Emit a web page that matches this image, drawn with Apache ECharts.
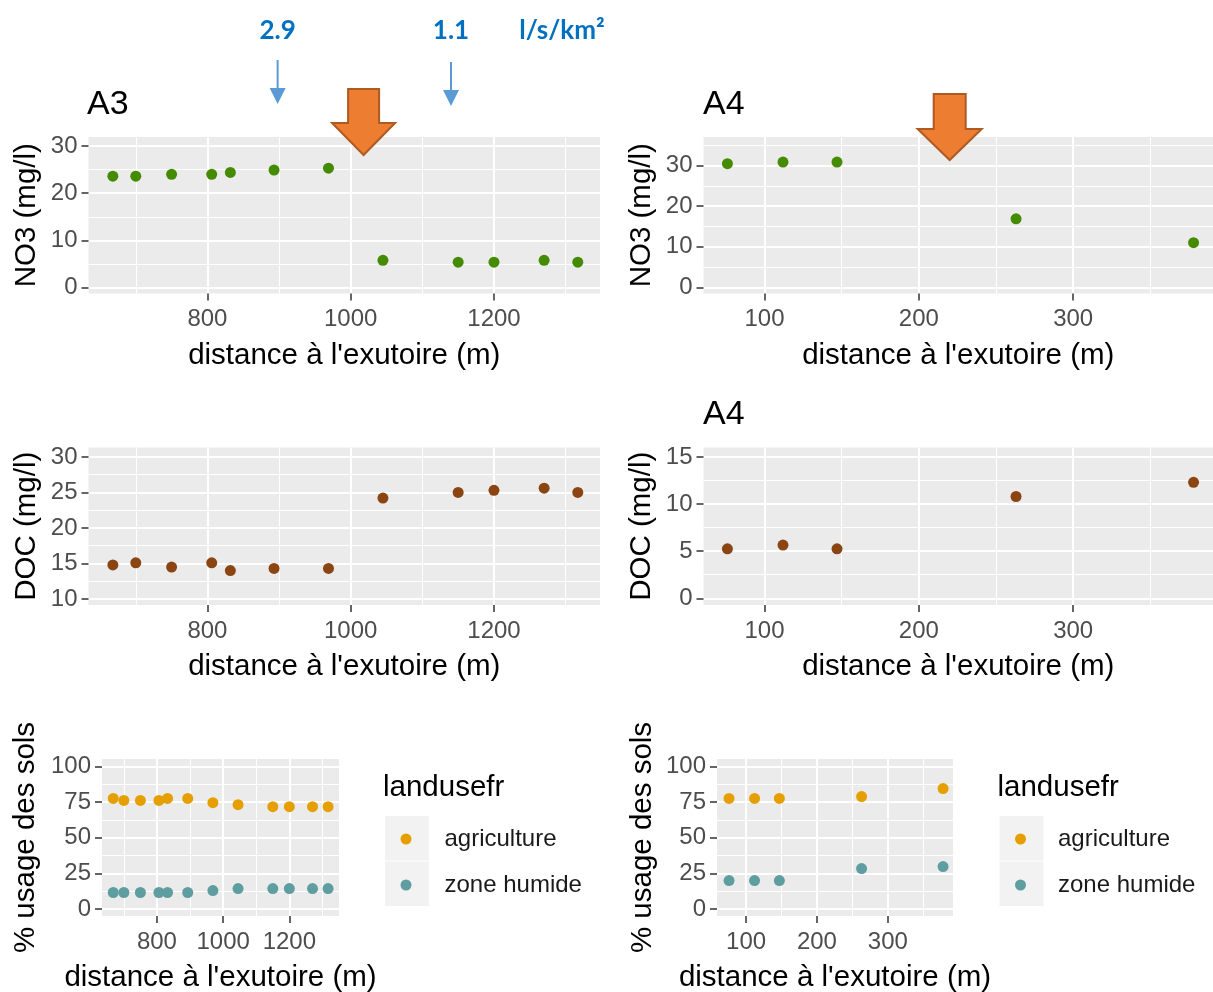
<!DOCTYPE html>
<html>
<head>
<meta charset="utf-8">
<script src="https://cdn.jsdelivr.net/npm/echarts@6/dist/echarts.min.js"></script>
<style>
  html, body { margin: 0; padding: 0; background: #ffffff; }
  #chart { width: 1213px; height: 992px; }
</style>
</head>
<body>
<div id="chart"></div>
<script>
// ---- Sampling data: stream A3 ----
const a3Distance = [668, 700, 750, 806, 832, 893, 969, 1045, 1150, 1200, 1270, 1317];
const a3No3      = [23.6, 23.6, 24.0, 24.0, 24.4, 24.9, 25.3, 5.8, 5.4, 5.4, 5.8, 5.4];
const a3Doc      = [14.8, 15.1, 14.5, 15.1, 14.0, 14.3, 14.3, 24.2, 25.0, 25.3, 25.6, 25.0];
const a3Agri     = [77.6, 76.2, 76.2, 76.2, 77.6, 77.6, 74.6, 73.2, 71.8, 71.8, 71.8, 71.8];
const a3Wet      = [11.5, 11.5, 11.5, 11.5, 11.5, 11.5, 12.9, 14.3, 14.3, 14.3, 14.3, 14.3];

// ---- Sampling data: stream A4 ----
const a4Distance = [76, 112, 147, 263, 378];
const a4No3      = [30.5, 30.9, 30.9, 16.9, 11.0];
const a4Doc      = [5.25, 5.65, 5.25, 10.8, 12.3];
const a4Agri     = [77.6, 77.6, 77.6, 78.9, 84.5];
const a4Wet      = [19.9, 19.9, 19.9, 28.3, 29.7];

// ---- Tick values ----
const a3XMajor = [800, 1000, 1200];
const a3XMinor = [700, 900, 1100, 1300];
const a4XMajor = [100, 200, 300];
const a4XMinor = [150, 250, 350];
const no3Major = [0, 10, 20, 30];
const no3MinorA3 = [5, 15, 25];
const no3MinorA4 = [5, 15, 25, 35];
const docA3Major = [10, 15, 20, 25, 30];
const docA3Minor = [12.5, 17.5, 22.5, 27.5];
const docA4Major = [0, 5, 10, 15];
const docA4Minor = [2.5, 7.5, 12.5];
const pctMajor = [0, 25, 50, 75, 100];
const pctMinor = [12.5, 37.5, 62.5, 87.5];

// ---- Annotations: specific discharge along A3, and the break points ----
const flowAt = [898, 1140];
const flowLabels = ['2.9', '1.1'];
const flowUnit = 'l/s/km\u00b2';
const breakA3 = 1018;
const breakA4 = 220;

const xTitle = "distance \u00e0 l'exutoire (m)";
const legendTitle = 'landusefr';
const landuseNames = ['agriculture', 'zone humide'];

const FONT = '"Liberation Sans", Arial, sans-serif';
const COL_NO3 = '#458B00';
const COL_DOC = '#8B4513';
const COL_AGRI = '#E69F00';
const COL_WET = '#5F9EA0';

const chart = echarts.init(document.getElementById('chart'), null, { renderer: 'canvas' });

const grids = [
  { left: 88.5, top: 137,   width: 511.5, height: 156.5 }, // A3 NO3
  { left: 703.5, top: 137,  right: 0,     height: 156.5 }, // A4 NO3
  { left: 88.5, top: 447.5, width: 511.5, height: 157.5 }, // A3 DOC
  { left: 703.5, top: 447.5, right: 0,    height: 157.5 }, // A4 DOC
  { left: 102, top: 759,    width: 237,   height: 157 },   // A3 land use
  { left: 717, top: 759,    width: 236,   height: 157 }    // A4 land use
].map(g => Object.assign({
  show: true, backgroundColor: '#EBEBEB', borderWidth: 0, containLabel: false, outerBoundsMode: 'none'
}, g));

const xAxes = [];
const yAxes = [];

function majorAxis(dim, gridIndex, min, max, ticks, name, gap, labelMargin) {
  const isX = dim === 'x';
  return {
    type: 'value', gridIndex, min, max,
    position: isX ? 'bottom' : 'left',
    name, nameLocation: 'middle', nameGap: gap,
    nameTextStyle: { fontFamily: FONT, fontSize: 29.5, color: '#000000' },
    axisLine: { show: false, onZero: false },
    axisTick: { show: true, length: 7, customValues: ticks, lineStyle: { color: '#333333', width: 1.5 } },
    axisLabel: {
      show: true, customValues: ticks, margin: labelMargin,
      formatter: v => String(v),
      fontFamily: FONT, fontSize: 24, color: '#4D4D4D'
    },
    splitLine: { show: true, lineStyle: { color: '#FFFFFF', width: 2 } },
    minorTick: { show: false }, minorSplitLine: { show: false }
  };
}
function minorAxis(dim, gridIndex, min, max, ticks) {
  return {
    type: 'value', gridIndex, min, max,
    position: dim === 'x' ? 'top' : 'right',
    axisLine: { show: false, onZero: false },
    axisTick: { show: false, customValues: ticks },
    axisLabel: { show: false, customValues: ticks },
    splitLine: { show: true, lineStyle: { color: '#FFFFFF', width: 1 } }
  };
}
function panel(g, xr, xMaj, xMin, yr, yMaj, yMin, yName, yGap) {
  xAxes.push(majorAxis('x', g, xr[0], xr[1], xMaj, xTitle, 47, 14));
  xAxes.push(minorAxis('x', g, xr[0], xr[1], xMin));
  yAxes.push(majorAxis('y', g, yr[0], yr[1], yMaj, yName, yGap, 11));
  yAxes.push(minorAxis('y', g, yr[0], yr[1], yMin));
}

panel(0, [634, 1348], a3XMajor, a3XMinor, [-1.23, 31.9], no3Major, no3MinorA3, 'NO3 (mg/l)', 46.5);
panel(1, [60.5, 390.6], a4XMajor, a4XMinor, [-1.53, 37.08], no3Major, no3MinorA4, 'NO3 (mg/l)', 46.5);
panel(2, [634, 1348], a3XMajor, a3XMinor, [9.16, 31.32], docA3Major, docA3Minor, 'DOC (mg/l)', 46.5);
panel(3, [60.5, 390.6], a4XMajor, a4XMinor, [-0.71, 16.0], docA4Major, docA4Minor, 'DOC (mg/l)', 46.5);
panel(4, [634, 1350], a3XMajor, a3XMinor, [-5, 105.3], pctMajor, pctMinor, '% usage des sols', 61);
panel(5, [59, 392], a4XMajor, a4XMinor, [-5, 105.3], pctMajor, pctMinor, '% usage des sols', 59);

function zip(xs, ys) { return xs.map((x, i) => [x, ys[i]]); }
function scatter(g, name, xs, ys, color) {
  return {
    type: 'scatter', name, xAxisIndex: 2 * g, yAxisIndex: 2 * g,
    data: zip(xs, ys), symbol: 'circle', symbolSize: 11,
    itemStyle: { color, opacity: 1 },
    emphasis: { disabled: true }, silent: true, z: 5
  };
}

const series = [
  scatter(0, 'NO3 A3', a3Distance, a3No3, COL_NO3),
  scatter(1, 'NO3 A4', a4Distance, a4No3, COL_NO3),
  scatter(2, 'DOC A3', a3Distance, a3Doc, COL_DOC),
  scatter(3, 'DOC A4', a4Distance, a4Doc, COL_DOC),
  scatter(4, landuseNames[0], a3Distance, a3Agri, COL_AGRI),
  scatter(4, landuseNames[1], a3Distance, a3Wet, COL_WET),
  scatter(5, landuseNames[0], a4Distance, a4Agri, COL_AGRI),
  scatter(5, landuseNames[1], a4Distance, a4Wet, COL_WET)
];

function legendAt(left, pad) {
  return {
    show: true, orient: 'vertical', left, top: 827, padding: 0,
    itemWidth: 11, itemHeight: 11, itemGap: 22, icon: 'circle',
    selectedMode: false, data: landuseNames,
    textStyle: { fontFamily: FONT, fontSize: 24, color: '#1A1A1A', padding: [0, 0, 0, pad] }
  };
}

chart.setOption({
  animation: false,
  backgroundColor: '#FFFFFF',
  grid: grids,
  xAxis: xAxes,
  yAxis: yAxes,
  legend: [legendAt(400.5, 28), legendAt(1015, 27)],
  series
});

// ---- Overlay: panel titles, legend keys/titles, flow annotations and arrows ----
const graphics = [];
function txt(text, x, y, opts) {
  graphics.push({
    type: 'text', x, y, z: 20, silent: true,
    style: Object.assign({
      text, fontFamily: FONT, fontSize: 34, fill: '#000000',
      align: 'left', verticalAlign: 'middle'
    }, opts || {})
  });
}
txt('A3', 87, 105);
txt('A4', 703, 105);
txt('A4', 703, 415);

// legend key backgrounds and titles
[[385, 383], [999.5, 997.5]].forEach(([kx, tx]) => {
  graphics.push({ type: 'rect', z: 0, silent: true, shape: { x: kx, y: 816, width: 44, height: 44.5 }, style: { fill: '#F2F2F2' } });
  graphics.push({ type: 'rect', z: 0, silent: true, shape: { x: kx, y: 861.5, width: 44, height: 44.5 }, style: { fill: '#F2F2F2' } });
  txt(legendTitle, tx, 788, { fontSize: 29.5 });
});

// flow annotations above the A3 panel
const ANN_FONT = 'Lato, "Open Sans", sans-serif';
const ANN_BLUE = '#0070C0';
const ARROW_BLUE = '#5B9BD5';
flowAt.forEach((d, i) => {
  const px = chart.convertToPixel({ xAxisIndex: 0 }, d);
  const dy = i * 2;
  txt(flowLabels[i], px, 31, { fontFamily: ANN_FONT, fontWeight: 'bold', fontSize: 26, fill: ANN_BLUE, align: 'center' });
  graphics.push({ type: 'line', z: 20, silent: true, shape: { x1: px, y1: 60 + dy, x2: px, y2: 90 + dy }, style: { stroke: ARROW_BLUE, lineWidth: 2 } });
  graphics.push({ type: 'polygon', z: 20, silent: true, shape: { points: [[px - 8, 88 + dy], [px + 8, 88 + dy], [px, 104 + dy]] }, style: { fill: ARROW_BLUE } });
});
txt(flowUnit, 562, 31, { fontFamily: ANN_FONT, fontWeight: 'bold', fontSize: 26, fill: ANN_BLUE, align: 'center' });

// block arrows marking the break in each stream
function blockArrow(cx, top, base, tip, halfShaft, halfHead) {
  graphics.push({
    type: 'polygon', z: 25, silent: true,
    shape: { points: [
      [cx - halfShaft, top], [cx + halfShaft, top], [cx + halfShaft, base], [cx + halfHead, base],
      [cx, tip], [cx - halfHead, base], [cx - halfShaft, base]
    ] },
    style: { fill: '#ED7D31', stroke: '#AE5A21', lineWidth: 2, lineJoin: 'miter' }
  });
}
blockArrow(chart.convertToPixel({ xAxisIndex: 0 }, breakA3), 89, 123, 155, 15.5, 31.5);
blockArrow(chart.convertToPixel({ xAxisIndex: 2 }, breakA4), 94, 129, 160, 16, 32);

chart.setOption({ graphic: graphics });
</script>
</body>
</html>
